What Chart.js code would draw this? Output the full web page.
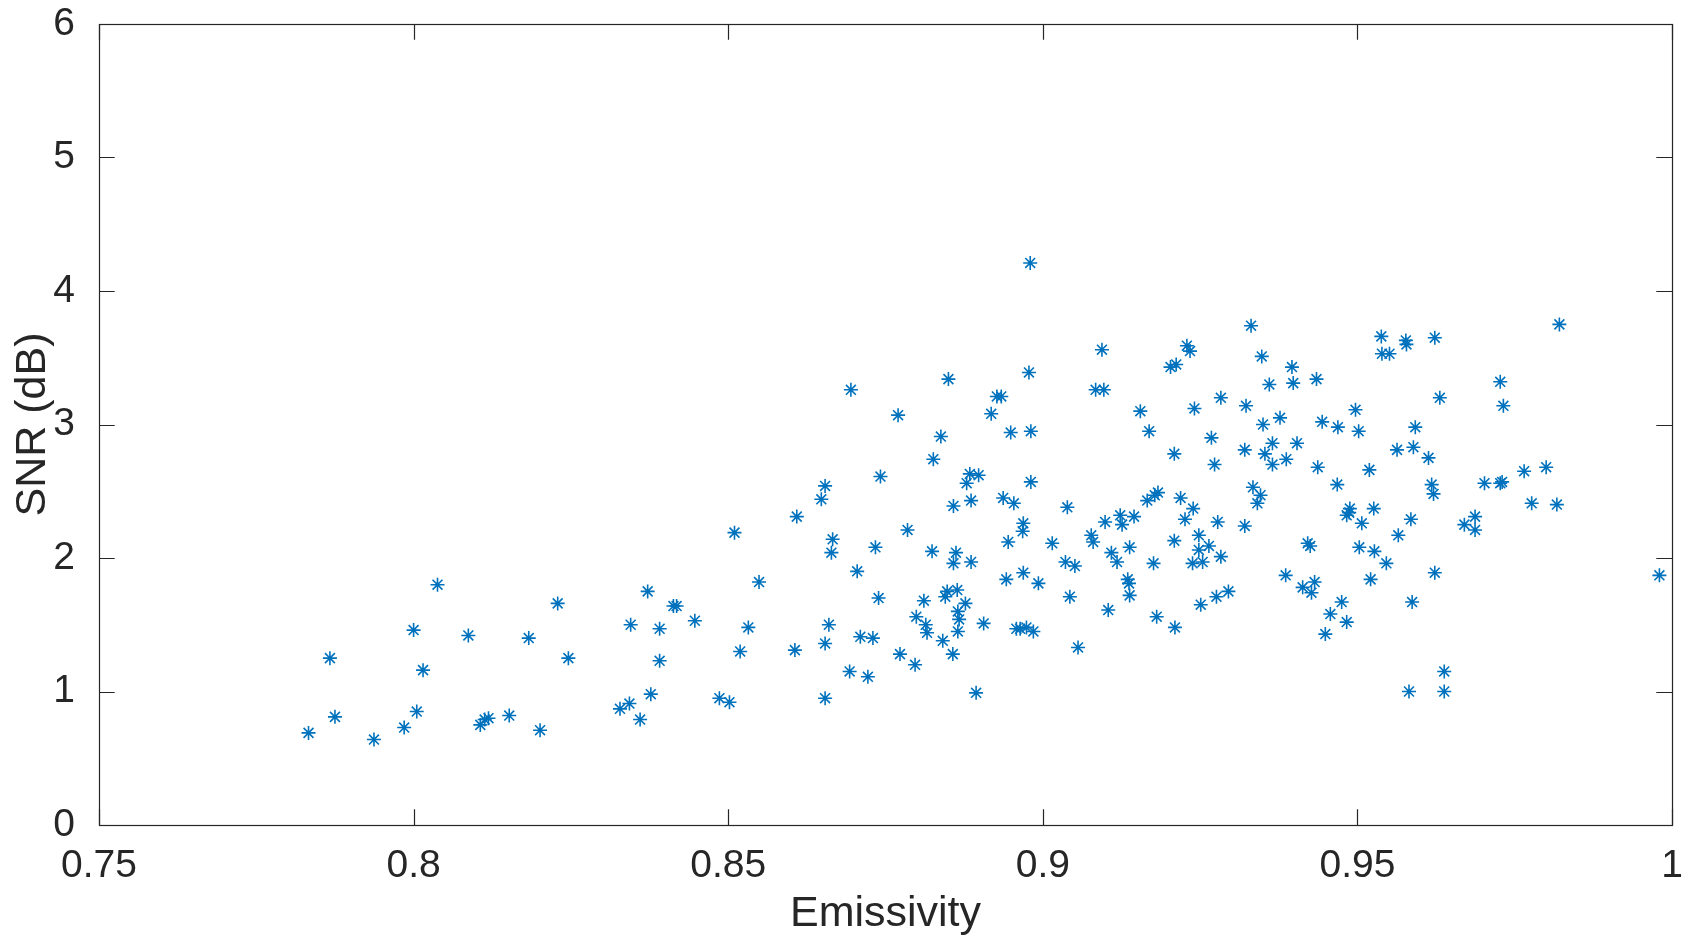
<!DOCTYPE html>
<html>
<head>
<meta charset="utf-8">
<script src="https://cdn.jsdelivr.net/npm/chart.js@4/dist/chart.umd.min.js"></script>
<style>
  html, body { margin: 0; padding: 0; background: #ffffff; }
  #c { display: block; }
</style>
</head>
<body>
<canvas id="c" width="1684" height="935"></canvas>
<script>
// ---- data ----
const emissivity = [
  0.7833, 0.7867, 0.7875, 0.7937, 0.7985, 0.8000, 0.8005, 0.8015, 0.8038, 0.8087,
  0.8106, 0.8113, 0.8119, 0.8152, 0.8183, 0.8201, 0.8229, 0.8246, 0.8328, 0.8343,
  0.8345, 0.8360, 0.8372, 0.8377, 0.8391, 0.8391, 0.8413, 0.8418, 0.8447, 0.8486,
  0.8502, 0.8510, 0.8519, 0.8532, 0.8549, 0.8606, 0.8609, 0.8648, 0.8654, 0.8654,
  0.8654, 0.8660, 0.8664, 0.8666, 0.8695, 0.8693, 0.8705, 0.8710, 0.8722, 0.8730,
  0.8734, 0.8739, 0.8742, 0.8770, 0.8773, 0.8785, 0.8797, 0.8799, 0.8811, 0.8814,
  0.8816, 0.8824, 0.8826, 0.8838, 0.8841, 0.8845, 0.8848, 0.8850, 0.8857, 0.8858,
  0.8858, 0.8862, 0.8864, 0.8865, 0.8867, 0.8865, 0.8877, 0.8879, 0.8884, 0.8886,
  0.8886, 0.8894, 0.8898, 0.8906, 0.8918, 0.8927, 0.8934, 0.8937, 0.8942, 0.8945,
  0.8949, 0.8954, 0.8958, 0.8964, 0.8968, 0.8969, 0.8969, 0.8974, 0.8978, 0.8980,
  0.8981, 0.8981, 0.8985, 0.8993, 0.9015, 0.9036, 0.9039, 0.9043, 0.9051, 0.9056,
  0.9077, 0.9080, 0.9084, 0.9094, 0.9097, 0.9099, 0.9104, 0.9109, 0.9118, 0.9123,
  0.9126, 0.9135, 0.9137, 0.9138, 0.9138, 0.9145, 0.9155, 0.9166, 0.9169, 0.9176,
  0.9178, 0.9181, 0.9183, 0.9203, 0.9209, 0.9209, 0.9210, 0.9212, 0.9219, 0.9226,
  0.9229, 0.9234, 0.9238, 0.9239, 0.9241, 0.9248, 0.9248, 0.9251, 0.9254, 0.9264,
  0.9268, 0.9273, 0.9276, 0.9278, 0.9283, 0.9283, 0.9295, 0.9321, 0.9323, 0.9321,
  0.9331, 0.9334, 0.9341, 0.9346, 0.9348, 0.9350, 0.9353, 0.9360, 0.9365, 0.9365,
  0.9377, 0.9386, 0.9387, 0.9396, 0.9398, 0.9404, 0.9413, 0.9421, 0.9425, 0.9427,
  0.9432, 0.9435, 0.9437, 0.9444, 0.9449, 0.9457, 0.9468, 0.9469, 0.9475, 0.9483,
  0.9483, 0.9487, 0.9488, 0.9497, 0.9502, 0.9503, 0.9507, 0.9519, 0.9521, 0.9526,
  0.9527, 0.9538, 0.9539, 0.9546, 0.9551, 0.9563, 0.9565, 0.9577, 0.9578, 0.9582,
  0.9585, 0.9587, 0.9589, 0.9592, 0.9613, 0.9618, 0.9621, 0.9623, 0.9623, 0.9631,
  0.9638, 0.9638, 0.9670, 0.9687, 0.9687, 0.9702, 0.9727, 0.9727, 0.9730, 0.9732,
  0.9765, 0.9777, 0.9800, 0.9817, 0.9821, 0.9980
];
const snrDb = [
  0.69, 1.25, 0.81, 0.64, 0.73, 1.46, 0.85, 1.16, 1.80, 1.42,
  0.75, 0.79, 0.80, 0.82, 1.40, 0.71, 1.66, 1.25, 0.87, 0.91,
  1.50, 0.79, 1.75, 0.98, 1.23, 1.47, 1.64, 1.64, 1.53, 0.95,
  0.92, 2.19, 1.30, 1.48, 1.82, 1.31, 2.31, 2.44, 2.54, 1.36,
  0.95, 1.50, 2.04, 2.14, 3.26, 1.15, 1.90, 1.41, 1.11, 1.40,
  2.08, 1.70, 2.61, 3.07, 1.28, 2.21, 1.20, 1.56, 1.68, 1.50,
  1.44, 2.05, 2.74, 2.91, 1.38, 1.71, 1.75, 3.34, 1.28, 2.39,
  1.96, 2.04, 1.76, 1.60, 1.54, 1.45, 1.66, 2.56, 2.63, 2.43,
  1.97, 0.99, 2.62, 1.51, 3.08, 3.21, 3.21, 2.45, 1.84, 2.12,
  2.94, 2.41, 1.47, 1.47, 2.20, 2.26, 1.89, 1.48, 3.39, 4.21,
  2.95, 2.57, 1.45, 1.81, 2.11, 1.97, 2.38, 1.71, 1.94, 1.33,
  2.17, 2.12, 3.26, 3.56, 3.26, 2.27, 1.61, 2.04, 1.97, 2.32,
  2.25, 1.84, 1.81, 2.08, 1.72, 2.31, 3.10, 2.43, 2.95, 1.96,
  2.47, 1.56, 2.49, 3.43, 2.78, 2.13, 1.48, 3.45, 2.45, 2.29,
  3.59, 3.55, 1.96, 2.37, 3.12, 2.17, 2.06, 1.65, 1.97, 2.09,
  2.90, 2.70, 1.71, 2.27, 3.20, 2.01, 1.75, 2.81, 3.14, 2.24,
  3.74, 2.53, 2.41, 2.47, 3.51, 3.00, 2.78, 3.30, 2.86, 2.70,
  3.05, 1.87, 2.74, 3.43, 3.31, 2.86, 1.78, 2.11, 2.09, 1.74,
  1.82, 3.34, 2.68, 3.02, 1.43, 1.58, 2.55, 2.98, 1.67, 2.32,
  1.52, 2.34, 2.37, 3.11, 2.95, 2.08, 2.26, 2.66, 1.84, 2.37,
  2.05, 3.66, 3.53, 1.96, 3.53, 2.81, 2.17, 3.63, 3.60, 1.00,
  2.29, 1.67, 2.83, 2.98, 2.75, 2.55, 2.48, 3.65, 1.89, 3.20,
  1.15, 1.00, 2.25, 2.31, 2.21, 2.56, 3.32, 2.56, 2.57, 3.14,
  2.65, 2.41, 2.68, 2.40, 3.75, 1.87
];
const xTickValues = [0.75, 0.8, 0.85, 0.9, 0.95, 1];
const yTickValues = [0, 1, 2, 3, 4, 5, 6];
const xLabel = 'Emissivity';
const yLabel = 'SNR (dB)';

// ---- styles ----
const AXIS_COLOR = '#262626';
const MARK_COLOR = '#0072BD';
const FONT_FAMILY = "'Liberation Sans', Arial, Helvetica, sans-serif";

const points = emissivity.map((e, i) => ({ x: e, y: snrDb[i] }));

// inward ticks on all four sides + box (MATLAB "box on" look)
const boxTicks = {
  id: 'boxTicks',
  afterDatasetsDraw(chart) {
    const { ctx, chartArea: a, scales } = chart;
    const len = 15.7;
    ctx.save();
    ctx.strokeStyle = AXIS_COLOR;
    ctx.lineWidth = 1.2;
    ctx.beginPath();
    scales.x.ticks.forEach((t, i) => {
      const px = Math.round(scales.x.getPixelForTick(i)) + 0.5;
      ctx.moveTo(px, a.bottom); ctx.lineTo(px, a.bottom - len);
      ctx.moveTo(px, a.top); ctx.lineTo(px, a.top + len);
    });
    scales.y.ticks.forEach((t, i) => {
      const py = Math.round(scales.y.getPixelForTick(i)) + 0.5;
      ctx.moveTo(a.left, py); ctx.lineTo(a.left + len, py);
      ctx.moveTo(a.right, py); ctx.lineTo(a.right - len, py);
    });
    ctx.stroke();
    ctx.strokeRect(Math.round(a.left) + 0.5, Math.round(a.top) + 0.5,
                   Math.round(a.right - a.left), Math.round(a.bottom - a.top));
    ctx.restore();
  }
};

const fmt = v => String(parseFloat(Number(v).toFixed(2)));

new Chart(document.getElementById('c'), {
  type: 'scatter',
  data: {
    datasets: [{
      data: points,
      pointStyle: 'star',
      pointRadius: 7,
      pointHoverRadius: 7,
      borderColor: MARK_COLOR,
      backgroundColor: MARK_COLOR,
      borderWidth: 1.6,
      pointBorderWidth: 1.6
    }]
  },
  options: {
    responsive: false,
    animation: false,
    events: [],
    layout: { padding: { top: 24, right: 12, left: 0, bottom: 0 } },
    plugins: {
      legend: { display: false },
      tooltip: { enabled: false }
    },
    scales: {
      x: {
        type: 'linear',
        min: 0.75,
        max: 1,
        afterBuildTicks: s => { s.ticks = xTickValues.map(v => ({ value: v })); },
        afterFit: s => { s.height = 110; s.paddingLeft = 0; s.paddingRight = 0; },
        grid: { display: false },
        border: { display: false },
        ticks: {
          color: AXIS_COLOR,
          padding: 10,
          maxRotation: 0,
          autoSkip: false,
          font: { family: FONT_FAMILY, size: 39 },
          callback: v => fmt(v)
        },
        title: {
          display: true,
          text: xLabel,
          color: AXIS_COLOR,
          font: { family: FONT_FAMILY, size: 43 },
          padding: { top: 0, bottom: -5 }
        }
      },
      y: {
        type: 'linear',
        min: 0,
        max: 6,
        afterBuildTicks: s => { s.ticks = yTickValues.map(v => ({ value: v })); },
        afterFit: s => { s.width = 99; s.paddingTop = 0; s.paddingBottom = 0; },
        grid: { display: false },
        border: { display: false },
        ticks: {
          color: AXIS_COLOR,
          padding: 16,
          autoSkip: false,
          font: { family: FONT_FAMILY, size: 39 },
          callback: v => fmt(v)
        },
        title: {
          display: true,
          text: yLabel,
          color: AXIS_COLOR,
          font: { family: FONT_FAMILY, size: 43 },
          padding: { top: 7, bottom: 0 }
        }
      }
    }
  },
  plugins: [boxTicks]
});
</script>
</body>
</html>
